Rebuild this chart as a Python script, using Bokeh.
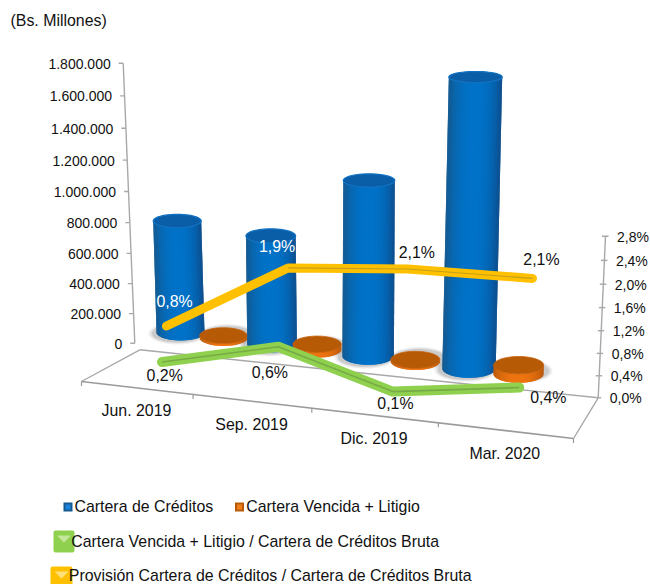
from bokeh.plotting import figure
from bokeh.models import Range1d
from bokeh.core.properties import value
from bokeh.embed import file_html
from bokeh.resources import INLINE
import math

# ---------- data ----------
categories = ["Jun. 2019", "Sep. 2019", "Dic. 2019", "Mar. 2020"]
cartera_creditos = [697000, 654000, 1029000, 1655000]
cartera_vencida = [14000, 30000, 9000, 48000]
ratio_vencida = [0.2, 0.64, 0.1, 0.37]
ratio_provision = [0.8, 1.94, 2.1, 2.13]
labels_vencida = ["0,2%", "0,6%", "0,1%", "0,4%"]
labels_provision = ["0,8%", "1,9%", "2,1%", "2,1%"]
left_ticks = [0, 200000, 400000, 600000, 800000, 1000000, 1200000, 1400000, 1600000, 1800000]
left_tick_labels = ["0", "200.000", "400.000", "600.000", "800.000", "1.000.000",
                    "1.200.000", "1.400.000", "1.600.000", "1.800.000"]
right_ticks = [0.0, 0.4, 0.8, 1.2, 1.6, 2.0, 2.4, 2.8]
right_tick_labels = ["0,0%", "0,4%", "0,8%", "1,2%", "1,6%", "2,0%", "2,4%", "2,8%"]
legend_names = ["Cartera de Créditos", "Cartera Vencida + Litigio",
                "Cartera Vencida + Litigio / Cartera de Créditos Bruta",
                "Provisión Cartera de Créditos / Cartera de Créditos Bruta"]

FONT = value("Liberation Sans")
TXT = "#111111"
AXC = "#a8a8a8"


def persp(t, w):
    return t * w / ((1 - t) + t * w)


def mix(a, b, f):
    a = [int(a[i:i + 2], 16) for i in (1, 3, 5)]
    b = [int(b[i:i + 2], 16) for i in (1, 3, 5)]
    return "#%02x%02x%02x" % tuple(round(a[i] + (b[i] - a[i]) * f) for i in range(3))


def plane(pl, i, v):
    """Project category index i and value v on one depth plane of the 3D scene."""
    t = persp(i / 3, 0.93)
    s = pl["s0"] + (pl["s1"] - pl["s0"]) * t
    lean = pl["l0"] + (pl["l1"] - pl["l0"]) * t
    x = pl["x0"] + (pl["x1"] - pl["x0"]) * t + lean * v
    y = pl["y0"] + (pl["y1"] - pl["y0"]) * t - s * v
    return x, y, t


BLUE = dict(x0=180, x1=468.5, y0=332, y1=368, s0=288 / 1.8e6, s1=317 / 1.8e6, l0=-4.73e-6, l1=3.93e-6)
ORANGE = dict(x0=223, x1=518, y0=337.5, y1=373.5, s0=300 / 1.8e6, s1=330 / 1.8e6, l0=-4e-6, l1=3.9e-6)
LINES = dict(x0=160, x1=516, y0=373.5, y1=410, s0=60, s1=62, l0=7.5, l1=7.5)

p = figure(width=650, height=584, x_range=Range1d(0, 650), y_range=Range1d(584, 0),
           output_backend="svg", toolbar_location=None, min_border=0,
           x_axis_type=None, y_axis_type=None)
p.grid.visible = False
p.outline_line_color = None
p.background_fill_color = "white"
p.border_fill_color = "white"


def txt(x, y, s, size, color=TXT, align="left"):
    p.text([x], [y], text=[s], text_font=FONT, text_font_size=value(size), text_color=color,
           text_align=align, text_baseline="middle")


def seg(x0, y0, x1, y1, color=AXC, w=1.4):
    p.line([x0, x1], [y0, y1], line_color=color, line_width=w)


def ell(cx, cy, rx, ry, n=48):
    xs = [cx + rx * math.cos(2 * math.pi * k / n) for k in range(n)]
    ys = [cy + ry * math.sin(2 * math.pi * k / n) for k in range(n)]
    return xs, ys


def flat(y):
    return 0.17 + 0.00049 * y


def cylinder(bx, by, tx, ty, r, edge_l, edge_r, mid, top, rim, rim_w):
    bb, bt = r * flat(by), r * flat(ty)
    n = 36
    for k in range(n):
        a0 = math.pi - math.pi * k / n
        a1 = max(0.0, math.pi - math.pi * (k + 2) / n)
        am = math.pi - math.pi * (k + 0.5) / n
        c = math.cos(am)
        f = (1 - abs(c) ** 2.4)
        color = mix(edge_l if c < 0 else edge_r, mid, f)
        xs = [tx + r * math.cos(a0), tx + r * math.cos(a1), bx + r * math.cos(a1), bx + r * math.cos(a0)]
        ys = [ty + bt * math.sin(a0), ty + bt * math.sin(a1), by + bb * math.sin(a1), by + bb * math.sin(a0)]
        p.patch(xs, ys, fill_color=color, line_color=None)
    xs, ys = ell(tx, ty, r, bt)
    p.patch(xs, ys, fill_color=top, line_color=rim, line_width=rim_w)


def shadow(cx, cy, rx, ry):
    for grow, alpha in ((5, 0.10), (3, 0.14), (1.5, 0.18)):
        xs, ys = ell(cx, cy, rx + grow, ry + grow * 0.6)
        p.patch(xs, ys, fill_color="#707070", fill_alpha=alpha, line_color=None)


# ---------- floor ----------
FL, BL, FR, BR = (81, 381), (139.3, 349.3), (573, 438), (597.7, 397.3)
seg(*BL, *BR)
seg(*BL, *FL)
seg(*FR, *BR)
seg(*FL, *FR, color="#9a9a9a", w=1.6)
for k in range(5):
    t = persp(k / 4, 0.88)
    fx = FL[0] + (FR[0] - FL[0]) * t
    fy = FL[1] + (FR[1] - FL[1]) * t
    seg(fx, fy, fx, fy + 4.5, color="#9a9a9a", w=1.2)
    if k < 4:
        t2 = persp((k + 0.5) / 4, 0.88)
        lx = FL[0] + (FR[0] - FL[0]) * t2
        ly = FL[1] + (FR[1] - FL[1]) * t2
        txt(lx, ly + 23, categories[k], "15.9px", align="center")

# ---------- left axis ----------
LB, LT = (134.3, 342.7), (122.7, 62.7)
vmax = left_ticks[-1]
lpts = []
for v in left_ticks:
    f = persp(v / vmax, 0.945)
    lpts.append((LB[0] + (LT[0] - LB[0]) * f, LB[1] + (LT[1] - LB[1]) * f))
seg(*lpts[0], *lpts[-1])
for (x, y), s in zip(lpts, left_tick_labels):
    seg(x - 4.5, y, x, y)
    txt(x - 12.5, y + 0.5, s, "14px", align="right")

# ---------- right axis ----------
RB, RT = (597.7, 397.3), (605, 235.7)
rmax = right_ticks[-1]
rpts = []
for v in right_ticks:
    f = persp(v / rmax, 0.947)
    rpts.append((RB[0] + (RT[0] - RB[0]) * f, RB[1] + (RT[1] - RB[1]) * f))
seg(*rpts[0], *rpts[-1])
for (x, y), s in zip(rpts, right_tick_labels):
    if s != right_tick_labels[0]:
        seg(x - 3.5, y, x + 3, y)
    else:
        seg(x, y, x + 3, y)
    txt(x + 11.5, y + 0.5, s, "14px")

# ---------- columns ----------
for i in range(4):
    bx, by, t = plane(BLUE, i, 0)
    r = 24 + 2.7 * t
    shadow(bx - 3, by + 1, r, r * flat(by))
    ox, oy, to = plane(ORANGE, i, 0)
    ro = 23.7 + 1.3 * to
    shadow(ox + 4, oy - 3, ro, ro * flat(oy))

for i in range(4):
    bx, by, t = plane(BLUE, i, 0)
    tx, ty, _ = plane(BLUE, i, cartera_creditos[i])
    r = 24 + 2.7 * t
    cylinder(bx, by, tx, ty, r, "#14598f", "#0d4d8c", "#0072c8", "#0a5ea8", "#1272c2", 1.2)
    ox, oy, to = plane(ORANGE, i, 0)
    qx, qy, _ = plane(ORANGE, i, cartera_vencida[i])
    ro = 23.7 + 1.3 * to
    cylinder(ox, oy, qx, qy, ro, "#b95a0a", "#b5560a", "#ee7410", "#b65a05", "#c8620c", 0.8)

# ---------- ratio lines ----------
gx, gy = zip(*[plane(LINES, i, ratio_vencida[i])[:2] for i in range(4)])
yx, yy = zip(*[plane(LINES, i, ratio_provision[i])[:2] for i in range(4)])
p.line(gx, gy, line_color="#8fd14f", line_width=10, line_join="round", line_cap="round")
p.line(gx, gy, line_color="#76ab45", line_width=1.6)
p.line(yx, yy, line_color="#ffc000", line_width=9, line_join="round", line_cap="round")
p.line(yx[1:], yy[1:], line_color="#c4a01a", line_width=1.2)

off_g = [(2.7, 13.5), (-8.5, 26), (2.7, 11.7), (29, 9.5)]
off_y = [(8, -25), (-11, -21), (9, -17), (9, -18.5)]
for i in range(4):
    txt(gx[i] + off_g[i][0], gy[i] + off_g[i][1], labels_vencida[i], "15.9px", align="center")
    c = "#ffffff" if i < 2 else TXT
    txt(yx[i] + off_y[i][0], yy[i] + off_y[i][1], labels_provision[i], "15.9px", color=c, align="center")

# ---------- title ----------
txt(10, 20, "(Bs. Millones)", "15.9px")


# ---------- legend ----------
def small_icon(x0, y0, edge, inner):
    p.quad(left=[x0], right=[x0 + 9], top=[y0], bottom=[y0 + 9], fill_color=edge, line_color=None)
    p.quad(left=[x0 + 2], right=[x0 + 7], top=[y0 + 2], bottom=[y0 + 7], fill_color=inner, line_color=None)


def big_icon(x0, y0, x1, y1, color, light):
    p.patch([x0 + 2, x1 - 2, x1 - 2, x0 + 2], [y0 + 2, y0 + 2, y1 - 2, y1 - 2], fill_color=color,
            line_color=color, line_width=4, line_join="round")
    cx = (x0 + x1) / 2
    p.patch([cx - 7, cx + 7, cx], [y0 + 5, y0 + 5, y0 + 12], fill_color=light, line_color=None)


small_icon(63, 502, "#14598f", "#1a84dc")
txt(74, 506, legend_names[0], "15.9px")
small_icon(234.5, 502, "#b95a0a", "#f0801c")
txt(245.7, 506, legend_names[1], "15.9px")
big_icon(53, 530, 74, 552, "#8fd14f", "#c4e79c")
txt(70.7, 541, legend_names[2], "15.9px")
big_icon(50, 566, 72, 590, "#ffc000", "#ffe07a")
txt(68.3, 575, legend_names[3], "15.9px")

open("out.html", "w").write(file_html(p, INLINE))
